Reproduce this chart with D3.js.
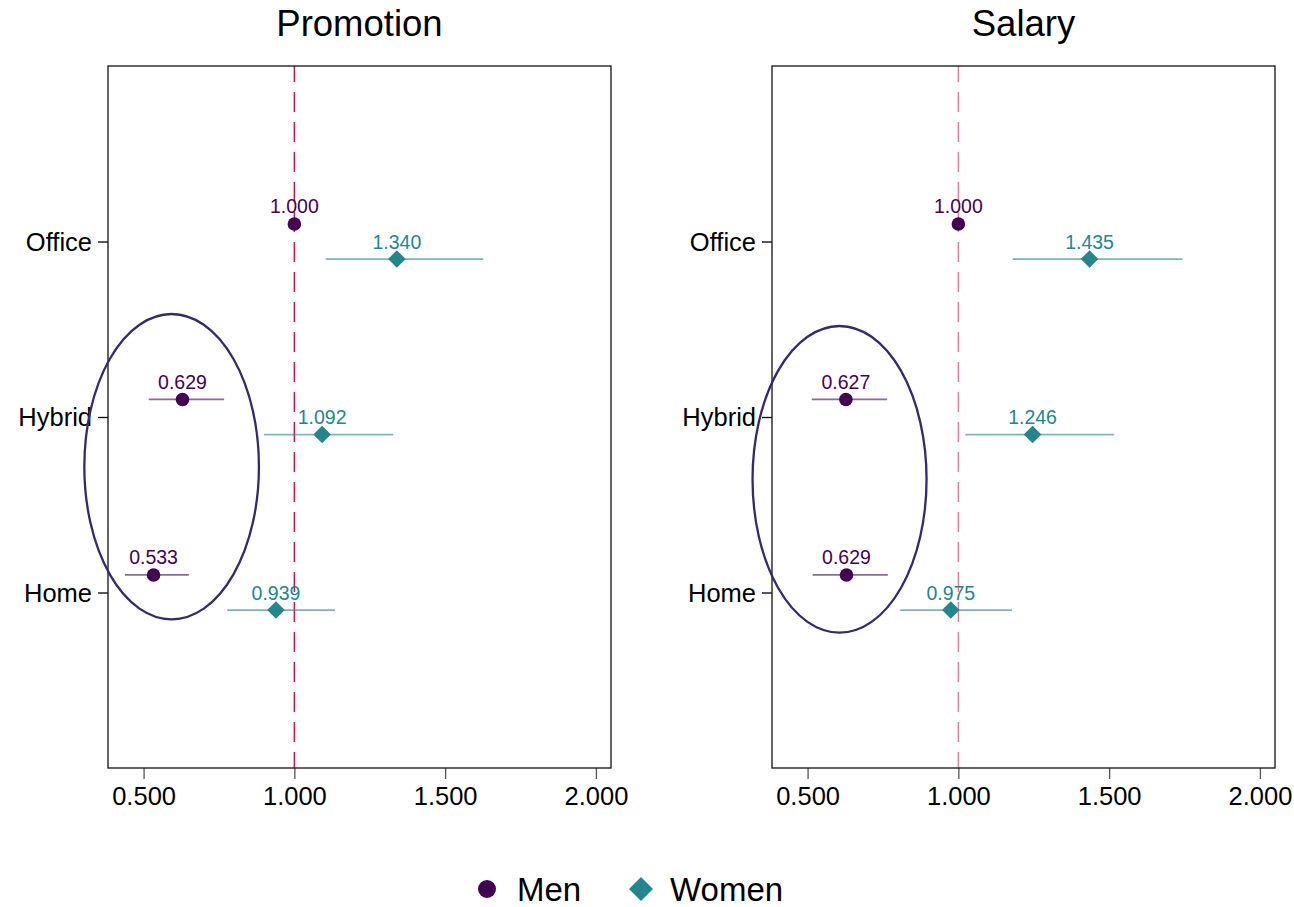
<!DOCTYPE html>
<html>
<head>
<meta charset="utf-8">
<script src="https://cdn.jsdelivr.net/npm/d3@7"></script>
<style>
  html, body { margin: 0; padding: 0; background: #ffffff; }
  svg { display: block; font-family: "Liberation Sans", Arial, Helvetica, sans-serif; }
</style>
</head>
<body>
<svg id="chart" width="1294" height="907"></svg>
<script>
// Workplace categories, top to bottom
const categories = ["Office", "Hybrid", "Home"];
const tickValues = [0.5, 1.0, 1.5, 2.0];
const seriesNames = ["Men", "Women"];

// Promotion: estimates with confidence bounds (reference group has no interval)
const promoMen      = [1.000, 0.629, 0.533];
const promoMenLo    = [null,  0.517, 0.438];
const promoMenHi    = [null,  0.767, 0.650];
const promoWomen    = [1.340, 1.092, 0.939];
const promoWomenLo  = [1.104, 0.899, 0.777];
const promoWomenHi  = [1.626, 1.328, 1.135];

// Salary
const salaryMen     = [1.000, 0.627, 0.629];
const salaryMenLo   = [null,  0.514, 0.517];
const salaryMenHi   = [null,  0.764, 0.766];
const salaryWomen   = [1.435, 1.246, 0.975];
const salaryWomenLo = [1.180, 1.023, 0.807];
const salaryWomenHi = [1.743, 1.516, 1.178];

// Highlight ellipses in data units: [centre x, centre y (category position), radius x, radius y]
const promoEllipse  = [0.593, 2.283, 0.2895, 0.870];
const salaryEllipse = [0.606, 2.355, 0.2885, 0.8735];

const colMen = "#440154";
const colWomen = "#23868d";
const colEllipse = "#352a6a";
const colRef = "#d6163f";

const svg = d3.select("#chart");
const plotTop = 66, plotBottom = 768, panelW = 503;

const panels = [
  { title: "Promotion", left: 108, refOpacity: 1.0,
    men: [promoMen, promoMenLo, promoMenHi], women: [promoWomen, promoWomenLo, promoWomenHi],
    ellipse: promoEllipse },
  { title: "Salary", left: 772, refOpacity: 0.55,
    men: [salaryMen, salaryMenLo, salaryMenHi], women: [salaryWomen, salaryWomenLo, salaryWomenHi],
    ellipse: salaryEllipse }
];

panels.forEach(p => {
  const x = d3.scaleLinear().domain([0.382, 2.05]).range([p.left, p.left + panelW]);
  const y = d3.scaleLinear().domain([0, 4]).range([plotTop, plotBottom]);
  const g = svg.append("g");

  // title
  g.append("text")
    .attr("x", p.left + panelW / 2).attr("y", 36)
    .attr("text-anchor", "middle")
    .attr("font-size", 36.5).attr("fill", "#000")
    .text(p.title);

  // x axis
  const xAxis = g.append("g")
    .attr("transform", `translate(0,${plotBottom})`)
    .call(d3.axisBottom(x).tickValues(tickValues).tickFormat(d3.format(".3f")).tickSize(11).tickSizeOuter(0));
  xAxis.select(".domain").remove();
  xAxis.selectAll(".tick line").attr("stroke", "#555").attr("stroke-width", 1.3);
  xAxis.selectAll(".tick text")
    .attr("font-size", 25.5).attr("fill", "#000")
    .attr("font-family", "Liberation Sans, Arial, sans-serif")
    .attr("y", 18.5).attr("dy", "0.71em");

  // y axis
  const yAxis = g.append("g")
    .attr("transform", `translate(${p.left},0)`)
    .call(d3.axisLeft(y).tickValues([1, 2, 3]).tickFormat(d => categories[d - 1]).tickSize(10).tickSizeOuter(0));
  yAxis.select(".domain").remove();
  yAxis.selectAll(".tick line").attr("stroke", "#000").attr("stroke-width", 1.3);
  yAxis.selectAll(".tick text")
    .attr("font-size", 25.5).attr("fill", "#000")
    .attr("font-family", "Liberation Sans, Arial, sans-serif")
    .attr("x", -16).attr("dy", "0.35em");

  // reference line at 1
  g.append("line")
    .attr("x1", x(1)).attr("x2", x(1))
    .attr("y1", plotTop).attr("y2", plotBottom)
    .attr("stroke", colRef).attr("stroke-opacity", p.refOpacity)
    .attr("stroke-width", 1.5)
    .attr("stroke-dasharray", "20,10").attr("stroke-dashoffset", 4);

  // frame
  g.append("rect")
    .attr("x", p.left).attr("y", plotTop)
    .attr("width", panelW).attr("height", plotBottom - plotTop)
    .attr("fill", "none").attr("stroke", "#111").attr("stroke-width", 1.3);

  const offsets = { Men: -0.1, Women: 0.1 };
  const seriesData = [
    { name: "Men", arrs: p.men, color: colMen },
    { name: "Women", arrs: p.women, color: colWomen }
  ];

  seriesData.forEach(s => {
    const [est, lo, hi] = s.arrs;
    const rows = categories.map((c, i) => ({ pos: i + 1 + offsets[s.name], est: est[i], lo: lo[i], hi: hi[i] }));

    // confidence intervals
    g.selectAll(null)
      .data(rows.filter(r => r.lo !== null))
      .enter().append("line")
      .attr("x1", r => x(r.lo)).attr("x2", r => x(r.hi))
      .attr("y1", r => y(r.pos)).attr("y2", r => y(r.pos))
      .attr("stroke", s.color).attr("stroke-opacity", 0.6).attr("stroke-width", 1.7);

    // markers
    if (s.name === "Men") {
      g.selectAll(null).data(rows).enter().append("circle")
        .attr("cx", r => x(r.est)).attr("cy", r => y(r.pos)).attr("r", 6.8)
        .attr("fill", s.color);
    } else {
      g.selectAll(null).data(rows).enter().append("path")
        .attr("d", r => {
          const cx = x(r.est), cy = y(r.pos), h = 8.8;
          return `M${cx},${cy - h}L${cx + h},${cy}L${cx},${cy + h}L${cx - h},${cy}Z`;
        })
        .attr("fill", s.color);
    }

    // value labels
    g.selectAll(null).data(rows).enter().append("text")
      .attr("x", r => x(r.est)).attr("y", r => y(r.pos) - 10.5)
      .attr("text-anchor", "middle")
      .attr("font-size", 19.5).attr("fill", s.color)
      .text(r => d3.format(".3f")(r.est));
  });

  // highlight ellipse
  const [ecx, ecy, erx, ery] = p.ellipse;
  g.append("ellipse")
    .attr("cx", x(ecx)).attr("cy", y(ecy))
    .attr("rx", x(ecx + erx) - x(ecx)).attr("ry", y(ecy + ery) - y(ecy))
    .attr("fill", "none").attr("stroke", colEllipse).attr("stroke-width", 2.3);
});

// legend
const legend = svg.append("g");
legend.append("circle").attr("cx", 487).attr("cy", 889).attr("r", 9).attr("fill", colMen);
legend.append("text").attr("x", 517).attr("y", 901).attr("font-size", 33).attr("fill", "#000").text(seriesNames[0]);
legend.append("path")
  .attr("d", "M641,877L653,889L641,901L629,889Z")
  .attr("fill", colWomen);
legend.append("text").attr("x", 670).attr("y", 901).attr("font-size", 33).attr("fill", "#000").text(seriesNames[1]);
</script>
</body>
</html>
